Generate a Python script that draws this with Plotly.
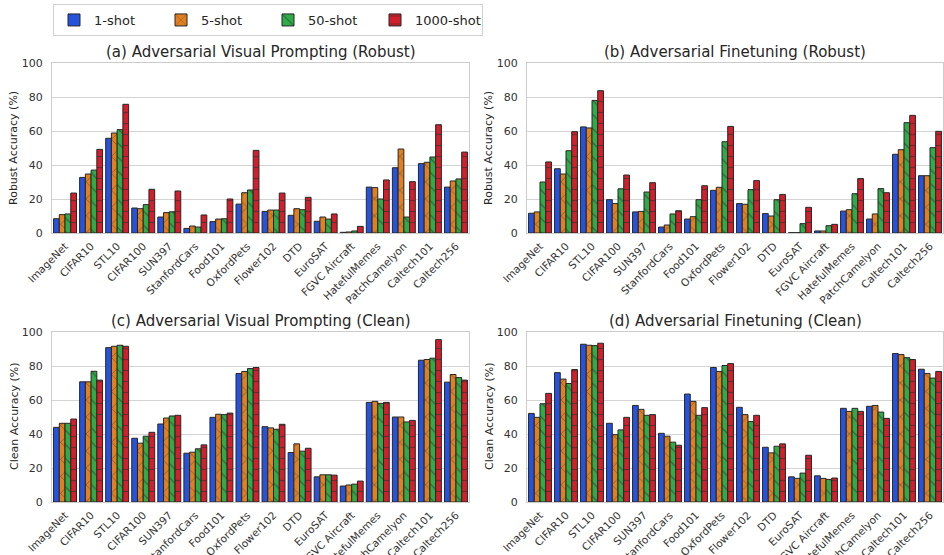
import plotly.graph_objects as go

datasets = ["ImageNet", "CIFAR10", "STL10", "CIFAR100", "SUN397", "StanfordCars",
            "Food101", "OxfordPets", "Flower102", "DTD", "EuroSAT", "FGVC Aircraft",
            "HatefulMemes", "PatchCamelyon", "Caltech101", "Caltech256"]
shots = ["1-shot", "5-shot", "50-shot", "1000-shot"]

# (a) Adversarial Visual Prompting, robust accuracy
avp_robust_1 = [8.4, 32.7, 55.7, 14.7, 9.4, 2.7, 6.7, 17.0, 12.7, 10.4, 6.9, 0.4, 27.0, 38.4, 40.8, 27.0]
avp_robust_5 = [10.8, 34.7, 58.8, 14.3, 12.0, 4.1, 8.2, 23.7, 13.5, 14.3, 9.4, 0.6, 26.7, 49.4, 41.6, 30.6]
avp_robust_50 = [11.2, 37.0, 60.8, 16.7, 12.5, 3.5, 8.4, 25.3, 13.5, 13.7, 8.2, 1.2, 20.0, 9.4, 44.7, 31.8]
avp_robust_1000 = [23.5, 49.2, 75.7, 25.7, 24.7, 10.6, 20.0, 48.6, 23.5, 21.0, 11.2, 3.9, 31.2, 30.2, 63.7, 47.6]

# (b) Adversarial Finetuning, robust accuracy
aft_robust_1 = [11.6, 37.8, 62.4, 19.6, 12.4, 3.5, 8.2, 25.1, 17.3, 11.4, 0.2, 1.2, 12.9, 8.2, 46.3, 33.7]
aft_robust_5 = [12.4, 34.7, 61.8, 17.3, 12.7, 4.7, 9.6, 26.9, 16.9, 10.0, 0.2, 1.2, 13.7, 11.2, 49.0, 33.7]
aft_robust_50 = [30.0, 48.4, 78.0, 26.0, 24.1, 11.2, 19.6, 53.7, 25.5, 19.6, 5.5, 4.3, 23.1, 26.1, 64.9, 50.2]
aft_robust_1000 = [41.8, 59.6, 83.7, 34.1, 29.6, 13.1, 27.8, 62.7, 30.8, 22.7, 15.1, 5.1, 32.0, 23.7, 69.2, 59.8]

# (c) Adversarial Visual Prompting, clean accuracy
avp_clean_1 = [43.9, 70.7, 90.8, 37.5, 45.9, 28.7, 49.8, 75.6, 44.3, 29.1, 14.8, 9.4, 58.6, 50.0, 83.4, 70.5]
avp_clean_5 = [46.3, 70.7, 91.6, 34.6, 49.4, 29.3, 51.6, 76.8, 43.6, 34.2, 16.0, 10.0, 59.2, 50.0, 83.8, 75.0]
avp_clean_50 = [46.3, 76.9, 92.2, 38.7, 50.6, 31.3, 51.4, 78.5, 42.8, 29.9, 16.0, 10.5, 58.0, 47.1, 84.6, 73.2]
avp_clean_1000 = [48.8, 71.7, 91.6, 41.0, 51.0, 33.6, 52.3, 79.1, 45.7, 31.6, 15.8, 12.3, 58.6, 48.0, 95.5, 71.7]

# (d) Adversarial Finetuning, clean accuracy
aft_clean_1 = [52.1, 76.1, 92.8, 46.3, 56.8, 40.4, 63.5, 79.1, 55.7, 32.2, 14.8, 15.4, 55.1, 56.3, 87.3, 78.1]
aft_clean_5 = [49.8, 72.3, 92.2, 39.6, 54.5, 38.7, 59.2, 76.8, 51.4, 28.9, 13.9, 13.9, 53.3, 56.8, 86.7, 75.6]
aft_clean_50 = [57.8, 69.7, 92.0, 42.4, 51.0, 35.2, 51.0, 80.3, 47.3, 32.8, 17.0, 13.3, 55.1, 52.9, 84.9, 72.9]
aft_clean_1000 = [63.9, 77.9, 93.4, 49.8, 51.4, 33.4, 55.5, 81.4, 51.0, 34.2, 27.5, 14.1, 53.3, 49.2, 83.8, 76.8]

panels = [
    ("(a) Adversarial Visual Prompting (Robust)", "Robust Accuracy (%)",
     [avp_robust_1, avp_robust_5, avp_robust_50, avp_robust_1000]),
    ("(b) Adversarial Finetuning (Robust)", "Robust Accuracy (%)",
     [aft_robust_1, aft_robust_5, aft_robust_50, aft_robust_1000]),
    ("(c) Adversarial Visual Prompting (Clean)", "Clean Accuracy (%)",
     [avp_clean_1, avp_clean_5, avp_clean_50, avp_clean_1000]),
    ("(d) Adversarial Finetuning (Clean)", "Clean Accuracy (%)",
     [aft_clean_1, aft_clean_5, aft_clean_50, aft_clean_1000]),
]

colors = ["#2553dd", "#e2801f", "#2fab48", "#d21f2b"]
hatches = ["", "x", "\\", "-"]
hatch_sizes = [8, 12, 10, 11]

W, H = 944, 555
x_domains = [(52 / W, 469 / W), (527 / W, 943 / W)]
y_domains = [(1 - 233 / H, 1 - 63 / H), (1 - 502 / H, 1 - 332 / H)]

FONT = "DejaVu Sans"
fig = go.Figure()

for p, (title, ylabel, series) in enumerate(panels):
    row, col = divmod(p, 2)
    suffix = "" if p == 0 else str(p + 1)
    for s, (name, vals) in enumerate(zip(shots, series)):
        fig.add_trace(go.Bar(
            x=datasets, y=vals, name=name,
            xaxis="x" + suffix, yaxis="y" + suffix,
            showlegend=(p == 0), legendgroup=name,
            marker=dict(
                color=colors[s],
                line=dict(color="#262626", width=1),
                pattern=dict(shape=hatches[s], fgcolor="#262626",
                             size=hatch_sizes[s], solidity=0.12),
            ),
        ))
    xd, yd = x_domains[col], y_domains[row]
    fig.layout["xaxis" + suffix] = dict(
        domain=xd, anchor="y" + suffix, tickangle=-45, automargin=False,
        showline=True, linecolor="#cccccc", linewidth=1, mirror=True,
        showgrid=False, ticks="", ticklabelstandoff=2,
        tickfont=dict(size=10.5, color="#333333", family=FONT),
    )
    fig.layout["yaxis" + suffix] = dict(
        domain=yd, anchor="x" + suffix, range=[0, 100], dtick=20, automargin=False,
        showline=True, linecolor="#cccccc", linewidth=1, mirror=True,
        showgrid=True, gridcolor="#d4d4d4", gridwidth=1, zeroline=False, ticks="",
        ticklabelstandoff=6,
        tickfont=dict(size=11, color="#333333", family=FONT),
    )
    cx = (xd[0] + xd[1]) / 2
    fig.add_annotation(text=title, x=cx, y=yd[1] + 11 / H, xref="paper", yref="paper",
                       xanchor="center", yanchor="middle", showarrow=False,
                       font=dict(size=15, color="#262626", family=FONT))
    fig.add_annotation(text=ylabel, x=xd[0] - 38 / W, y=(yd[0] + yd[1]) / 2,
                       xref="paper", yref="paper", xanchor="center", yanchor="middle",
                       textangle=-90, showarrow=False,
                       font=dict(size=11, color="#262626", family=FONT))

fig.update_layout(
    width=W, height=H, margin=dict(l=0, r=0, t=0, b=0),
    paper_bgcolor="white", plot_bgcolor="white",
    barmode="group", bargap=0.12, bargroupgap=0,
    font=dict(family=FONT, color="#262626"),
    legend=dict(orientation="h", x=53 / W, y=1 - 4 / H, xanchor="left", yanchor="top",
                bordercolor="#d0d0d0", borderwidth=1, bgcolor="white",
                font=dict(size=13, color="#262626", family=FONT),
                entrywidth=62, entrywidthmode="pixels", traceorder="normal"),
)

fig.write_html("out.html")
